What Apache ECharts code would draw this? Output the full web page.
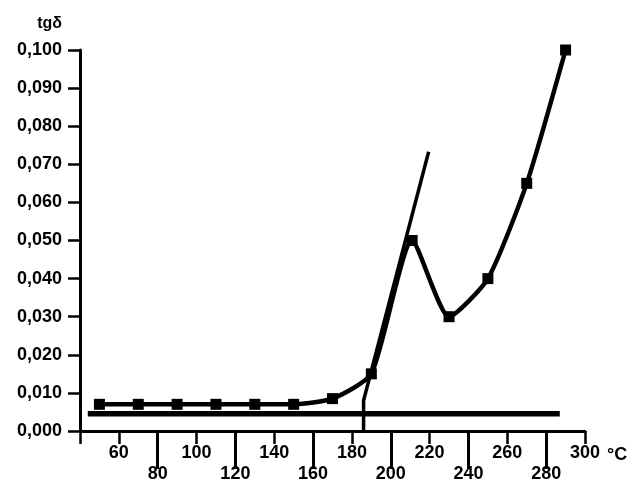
<!DOCTYPE html>
<html>
<head>
<meta charset="utf-8">
<script src="https://cdn.jsdelivr.net/npm/echarts@6/dist/echarts.min.js"></script>
<style>
  html, body { margin: 0; padding: 0; background: #fff; }
  #chart { width: 632px; height: 483px; }
</style>
</head>
<body>
<div id="chart"></div>
<script>
// ---- data ----
const curveX = [50, 70, 90, 110, 130, 150, 170, 190, 211, 230, 250, 270, 290];
const curveY = [0.007, 0.007, 0.007, 0.007, 0.007, 0.007, 0.0085, 0.015, 0.050, 0.030, 0.040, 0.065, 0.100];
const tangentX = [186, 186, 219.5];
const tangentY = [0, 0.008, 0.0733];
const baseX = [44, 287];
const baseY = [0.0045, 0.0045];
const upperTickVals = [40, 60, 100, 140, 180, 220, 260, 300];
const upperLabelVals = [60, 100, 140, 180, 220, 260, 300];
const lowerVals = [80, 120, 160, 200, 240, 280];
const yTitle = 'tgδ';
const xUnit = '°C';

const pairs = (xs, ys) => xs.map((x, i) => [x, ys[i]]);
const FONT = "'Liberation Sans', Arial, sans-serif";
const labelStyle = { color: '#000', fontFamily: FONT, fontWeight: 'bold', fontSize: 18 };

const chart = echarts.init(document.getElementById('chart'), null, { renderer: 'canvas' });
chart.setOption({
  backgroundColor: '#fff',
  animation: false,
  grid: { left: 80, right: 47, top: 50, bottom: 51, containLabel: false },
  xAxis: [
    {
      type: 'value', min: 40, max: 300, interval: 20, position: 'bottom',
      axisLine: { show: true, onZero: false, lineStyle: { color: '#000', width: 3 } },
      axisTick: { show: true, customValues: upperTickVals, length: 13, lineStyle: { color: '#000', width: 2.5 } },
      axisLabel: Object.assign({ customValues: upperLabelVals, margin: 13 }, labelStyle),
      splitLine: { show: false },
      name: xUnit, nameLocation: 'end', nameGap: 22,
      nameTextStyle: Object.assign({ verticalAlign: 'top', padding: [15, 0, 0, 0] }, labelStyle)
    },
    {
      type: 'value', min: 40, max: 300, interval: 20, position: 'bottom',
      axisLine: { show: false, onZero: false },
      axisTick: { show: true, customValues: lowerVals, length: 38, lineStyle: { color: '#000', width: 3 } },
      axisLabel: Object.assign({ customValues: lowerVals, margin: 34 }, labelStyle),
      splitLine: { show: false }
    }
  ],
  yAxis: {
    type: 'value', min: 0, max: 0.1, interval: 0.01,
    axisLine: { show: true, lineStyle: { color: '#000', width: 3 } },
    axisTick: { show: true, length: 12, lineStyle: { color: '#000', width: 2.5 } },
    axisLabel: Object.assign({ margin: 18, formatter: v => v.toFixed(3).replace('.', ',') }, labelStyle),
    splitLine: { show: false },
    name: yTitle, nameLocation: 'end', nameGap: 18,
    nameTextStyle: Object.assign({}, labelStyle, { fontSize: 16, align: 'right', padding: [0, 18, 0, 0] })
  },
  series: [
    {
      type: 'line', xAxisIndex: 0, data: pairs(baseX, baseY),
      symbol: 'none', lineStyle: { color: '#000', width: 5.5 }, clip: false
    },
    {
      type: 'line', xAxisIndex: 0, data: pairs(tangentX, tangentY),
      symbol: 'none', lineStyle: { color: '#000', width: 3.5 }, clip: false
    },
    {
      type: 'line', xAxisIndex: 0, data: pairs(curveX, curveY),
      smooth: 0.2, symbol: 'rect', symbolSize: 11,
      itemStyle: { color: '#000' }, lineStyle: { color: '#000', width: 4.5 }, clip: false
    }
  ]
});
</script>
</body>
</html>
